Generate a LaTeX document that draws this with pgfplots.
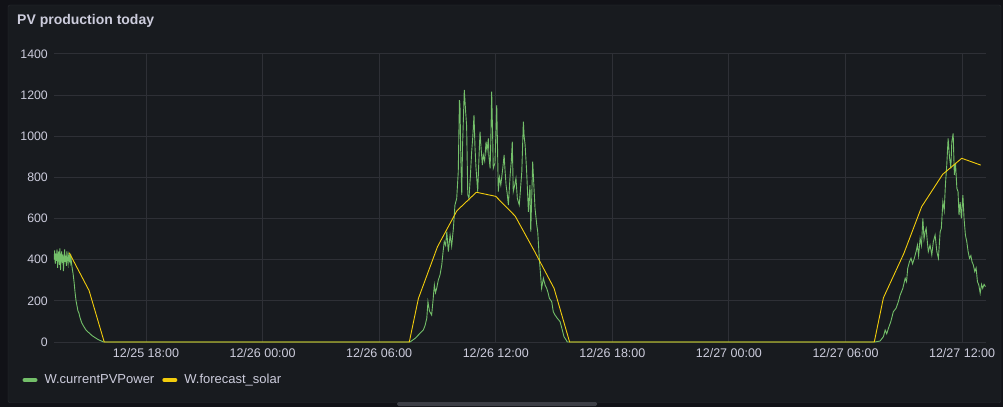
\documentclass[border=0pt]{standalone}
\usepackage{fontspec}
\setmainfont{Liberation Sans}
\usepackage{pgfplots}
\pgfplotsset{compat=1.18}
\definecolor{outerbg}{HTML}{111217}
\definecolor{panelbg}{HTML}{181B1F}
\definecolor{panelborder}{HTML}{2A2C31}
\definecolor{gridc}{HTML}{2E3036}
\definecolor{txt}{HTML}{CCCCDC}
\definecolor{pvgreen}{HTML}{73BF69}
\definecolor{fcyellow}{HTML}{F2CC0C}
\definecolor{scroll}{HTML}{3D3F46}
\begin{document}
\begin{tikzpicture}[x=1pt,y=1pt]
\useasboundingbox (0,0) rectangle (1003,407);
\fill[outerbg] (0,0) rectangle (1003,407);
\filldraw[fill=panelbg, draw=panelborder, rounded corners=2pt] (8,402) rectangle (1001,4.3);
\fill[scroll, rounded corners=1.5pt] (397,1) rectangle (597,5);
\node[anchor=west, inner sep=0pt, text=txt, font=\fontsize{14}{16}\selectfont\bfseries] at (17,386) {PV production today};
\begin{axis}[
  at={(54pt,65pt)}, anchor=south west,
  scale only axis, width=932pt, height=288pt,
  xmin=13.265, xmax=61.23, ymin=0, ymax=1400,
  axis line style={draw=none},
  major tick length=0pt,
  xtick={18,24,30,36,42,48,54,60},
  xticklabels={12/25 18:00,12/26 00:00,12/26 06:00,12/26 12:00,12/26 18:00,12/27 00:00,12/27 06:00,12/27 12:00},
  ytick={0,200,400,600,800,1000,1200,1400},
  /pgf/number format/assume math mode=true,
  /pgf/number format/1000 sep={},
  yticklabel style={font=\fontsize{12.3}{14}\selectfont, text=txt, inner sep=0pt, xshift=-6pt},
  xticklabel style={font=\fontsize{12.5}{14}\selectfont, text=txt, inner sep=0pt, yshift=-6pt},
  grid=major,
  major grid style={draw=gridc, line width=1pt},
  legend style={at={(-0.034,-0.132)}, anchor=west, draw=none, fill=none, text=txt, font=\fontsize{13}{15}\selectfont, legend columns=-1, /tikz/every even column/.append style={column sep=6pt}, /tikz/every odd column/.append style={column sep=5pt}, inner sep=0pt},
  legend cell align=left,
  legend image code/.code={\draw[#1, line width=4pt, line cap=round] (0pt,0pt) -- (11pt,0pt);},
]
\addplot[pvgreen, line width=0.9pt] coordinates {
(13.27,400) (13.30,445) (13.33,380) (13.36,430) (13.39,395) (13.42,450) (13.45,360) (13.48,420) (13.51,440) (13.54,375)
(13.57,455) (13.60,350) (13.63,410) (13.66,440) (13.69,385) (13.72,425) (13.75,345) (13.78,400) (13.81,450) (13.84,390)
(13.87,420) (13.90,370) (13.93,440) (13.96,400) (13.99,380) (14.02,420) (14.05,400) (14.08,430) (14.11,390) (14.14,410)
(14.17,380) (14.20,360) (14.25,330) (14.30,290) (14.35,240) (14.40,200) (14.45,175) (14.50,150) (14.55,140) (14.60,120)
(14.65,105) (14.70,92) (14.80,75) (14.90,60) (15.00,50) (15.10,42) (15.20,33) (15.30,26) (15.40,20) (15.50,14)
(15.60,9) (15.70,5) (15.80,0)
(31.59,0) (31.85,18) (32.10,42) (32.27,58) (32.36,80) (32.45,115) (32.51,196) (32.59,150) (32.70,131) (32.77,200)
(32.84,277) (32.90,240) (32.96,261) (33.04,300) (33.13,326) (33.22,374) (33.29,440) (33.35,488) (33.42,470) (33.48,536)
(33.56,439) (33.65,520) (33.73,466) (33.82,553) (33.90,666) (33.99,698) (34.07,828) (34.13,1176) (34.16,1150) (34.20,900)
(34.25,715) (34.29,950) (34.33,1071) (34.38,1225) (34.45,1119) (34.50,1050) (34.56,715) (34.62,698) (34.69,800) (34.76,925)
(34.82,1000) (34.88,1103) (34.93,950) (34.98,850) (35.07,731) (35.13,880) (35.19,1022) (35.24,950) (35.31,860) (35.36,909)
(35.43,880) (35.50,974) (35.55,930) (35.62,990) (35.65,900) (35.71,844) (35.75,1000) (35.79,1217) (35.84,1000) (35.87,844)
(35.96,870) (36.05,1152) (36.09,950) (36.13,731) (36.19,800) (36.26,763) (36.36,844) (36.43,909) (36.48,830) (36.53,763)
(36.59,720) (36.65,666) (36.74,812) (36.80,880) (36.85,974) (36.90,731) (36.97,760) (37.04,796) (37.11,698) (37.21,666)
(37.27,740) (37.34,828) (37.38,950) (37.42,1071) (37.46,1000) (37.51,958) (37.59,828) (37.68,633) (37.76,763) (37.80,536)
(37.85,700) (37.90,877) (37.96,763) (38.02,650) (38.11,569) (38.16,536) (38.24,407) (38.32,310) (38.36,261) (38.45,310)
(38.54,277) (38.62,261) (38.69,240) (38.76,212) (38.88,196) (38.96,147) (39.05,131) (39.17,115) (39.31,99) (39.40,67)
(39.46,45) (39.51,26) (39.62,10) (39.68,0)
(55.52,0) (55.78,5) (55.95,26) (56.04,58) (56.12,40) (56.21,67) (56.33,99) (56.46,147) (56.60,164) (56.72,196)
(56.81,228) (56.95,261) (57.07,310) (57.14,293) (57.20,358) (57.29,390) (57.37,407) (57.45,380) (57.54,407) (57.63,439)
(57.70,471) (57.76,420) (57.84,504) (57.91,470) (57.98,601) (58.04,500) (58.10,536) (58.15,553) (58.21,488) (58.26,439)
(58.35,471) (58.44,423) (58.52,488) (58.61,520) (58.70,439) (58.78,407) (58.87,536) (58.93,553) (59.01,682) (59.08,640)
(59.14,763) (59.21,860) (59.28,990) (59.35,900) (59.42,844) (59.47,974) (59.54,1014) (59.60,812) (59.66,870) (59.73,747)
(59.79,731) (59.84,617) (59.90,680) (59.96,601) (60.04,714) (60.10,600) (60.17,520) (60.24,488) (60.31,439) (60.38,407)
(60.45,420) (60.51,390) (60.58,374) (60.65,342) (60.72,360) (60.79,293) (60.86,277) (60.93,237) (61.00,280) (61.06,261)
(61.13,280) (61.20,269)
};
\addlegendentry{W.currentPVPower}
\addplot[fcyellow, line width=0.9pt] coordinates {
(14.05,434) (15.07,250) (15.85,0) (31.55,0) (32.02,212) (33.00,463) (34.00,638) (35.00,728) (36.00,708) (37.00,612)
(38.00,440) (39.00,261) (39.80,0) (55.48,0) (55.95,215) (57.00,430) (57.92,658) (59.00,815) (59.98,893) (60.96,860)
};
\addlegendentry{W.forecast\_solar}
\end{axis}
\end{tikzpicture}
\end{document}
